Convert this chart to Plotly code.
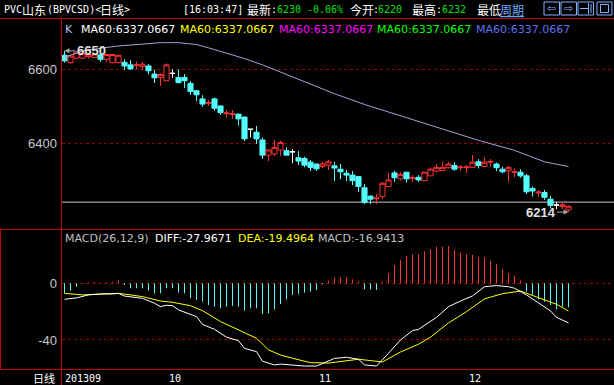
import plotly.graph_objects as go

W, H = 614, 385

# ---------------- data ----------------
opens  = [6638,6618,6630,6630,6634,6632,6639,6627,6618,6618,
          6619,6612,6610,6607,6609,6587,6578,6569,6589,6578,
          6578,6562,6542,6520,6508,6520,6501,6480,6478,6479,
          6471,6438,6430,6409,6368,6371,6382,6380,6377,6361,
          6359,6349,6344,6337,6341,6339,6330,6319,6314,6310,
          6280,6257,6250,6256,6283,6320,6304,6322,6305,6308,
          6299,6312,6325,6326,6334,6340,6334,6334,6335,6350,
          6337,6349,6344,6330,6326,6321,6322,6312,6278,6266,
          6267,6249,6233,6229,6220]
highs  = [6650,6637,6648,6645,6644,6643,6642,6642,6641,6639,
          6627,6625,6621,6620,6614,6598,6589,6616,6600,6600,
          6587,6568,6544,6530,6517,6524,6501,6490,6490,6479,
          6471,6438,6447,6416,6382,6409,6407,6389,6384,6379,
          6364,6355,6344,6350,6355,6350,6344,6328,6325,6312,
          6290,6260,6263,6296,6320,6326,6322,6322,6314,6314,
          6322,6335,6344,6349,6349,6349,6341,6341,6368,6357,
          6362,6357,6348,6337,6339,6332,6330,6317,6283,6274,
          6274,6258,6242,6242,6232]
lows   = [6618,6615,6627,6628,6630,6630,6620,6620,6616,6616,
          6598,6598,6600,6598,6586,6563,6555,6569,6577,6562,
          6549,6531,6514,6499,6501,6488,6477,6470,6466,6448,
          6406,6416,6398,6358,6352,6366,6366,6368,6346,6341,
          6335,6325,6325,6332,6328,6298,6303,6298,6287,6268,
          6236,6236,6236,6249,6283,6296,6299,6294,6296,6296,
          6299,6312,6322,6326,6332,6326,6326,6320,6335,6332,
          6337,6337,6325,6319,6296,6308,6307,6263,6256,6256,
          6247,6224,6222,6222,6214]
closes = [6623,6636,6647,6643,6641,6641,6627,6640,6640,6638,
          6609,6601,6612,6614,6596,6577,6586,6612,6589,6564,
          6569,6540,6531,6506,6510,6495,6483,6482,6480,6466,
          6412,6438,6412,6368,6382,6389,6402,6368,6377,6352,
          6341,6335,6331,6344,6350,6333,6323,6314,6299,6283,
          6240,6249,6252,6292,6301,6307,6316,6304,6307,6301,
          6322,6330,6335,6335,6344,6330,6336,6336,6349,6340,
          6349,6351,6334,6323,6335,6323,6312,6269,6271,6268,
          6254,6232,6233,6234,6230]

ma60_idx = [0, 3, 6, 9, 13, 16, 19, 22, 24, 27, 30, 33, 39, 45, 50, 56, 63, 69, 75, 80, 84]
ma60_val = [6633, 6649, 6657, 6663, 6668, 6672, 6672, 6667, 6658, 6644, 6629, 6612,
            6572, 6534, 6505, 6475, 6440, 6408, 6381, 6350, 6337]

macd_hist = [-7.1, -5.2, -2.4, -0.3, 0.5, 0.8, 0.5, 0.8, 1.0, 1.9,
             -1.2, -3.5, -3.5, -3.5, -5.2, -7.1, -7.1, -3.5, -3.5, -6.6,
             -7.1, -10.6, -11.8, -12.9, -15.3, -16.5, -17.6, -16.5, -16.0, -16.5,
             -19.3, -17.6, -17.6, -21.6, -21.2, -18.4, -14.6, -11.3, -8.2, -7.5,
             -6.6, -5.9, -4.7, -0.7, 1.9, 4.0, 4.0, 4.0, 2.8, 1.2,
             -4.2, -4.2, -4.7, 1.2, 7.1, 12.9, 16.5, 19.3, 20.5, 20.5,
             22.4, 24.0, 25.9, 25.9, 26.4, 23.5, 21.6, 20.5, 20.0, 18.4,
             18.4, 16.0, 13.6, 9.9, 7.1, 5.2, 1.9, -5.9, -8.2, -11.3,
             -12.9, -15.3, -18.4, -16.5, -16.94]

diff_idx = [0, 2, 4, 6, 8, 9, 10, 13, 15, 16, 17, 18, 19, 22, 23, 25, 27, 29, 30, 32,
            33, 35, 36, 38, 40, 42, 44, 45, 47, 49, 50, 52, 54, 56, 58, 59, 62, 64, 66, 68,
            70, 72, 74, 75, 77, 79, 81, 82, 84]
diff_val = [-11.3, -10.3, -8.2, -7.5, -7.5, -7.1, -9.0, -10.6, -14.1, -16.5,
            -15.5, -15.8, -18.8, -23.5, -29.0, -32.5, -38.0, -40.5, -45.9, -48.2,
            -55.0, -57.6, -57.0, -57.6, -58.4, -58.4, -54.6, -53.0, -52.2, -53.6,
            -57.6, -58.4, -49.4, -40.0, -33.4, -32.5, -24.0, -16.5, -12.5, -8.9,
            -2.4, -1.6, -2.4, -3.5, -8.2, -14.1, -19.5, -24.0, -27.97]

dea_idx = [0, 3, 5, 9, 10, 13, 16, 18, 21, 23, 26, 30, 32, 34, 36, 38, 41, 44, 47, 49,
           53, 56, 59, 61, 64, 67, 70, 73, 76, 78, 81, 82, 84]
dea_val = [-7.1, -8.2, -7.8, -7.1, -7.6, -9.4, -12.5, -13.4, -15.8, -19.3,
           -27.0, -34.5, -38.8, -47.0, -50.6, -52.9, -56.0, -56.3, -54.6, -53.6,
           -55.5, -48.5, -43.0, -38.0, -28.0, -20.0, -11.0, -7.3, -5.5, -8.5,
           -13.0, -14.8, -19.5]

month_idx = [0, 18, 43, 68]
month_labels = ["201309", "10", "11", "12"]
price_ticks = [6400, 6600]
macd_ticks = [-40, 0]
high_mark = 6650
low_mark = 6214
ref_level = 6241

ma_legend = ["MA60:6337.0667"] * 5
ma_colors = ["#ffffff", "#ffff00", "#ff00ff", "#00ff00", "#6070f0"]

RED = "#ff3232"
CYAN = "#54fcfc"
FRAME = "#c00000"
GRID = "#9a0000"

# ---------------- helpers ----------------
def px(x):
    return x / W

def py(y):
    return 1 - y / H

n = len(opens)
idx = list(range(n))
white_idx = [i for i in idx if opens[i] == closes[i]]
color_idx = [i for i in idx if opens[i] != closes[i]]

fig = go.Figure()

fig.add_trace(go.Candlestick(
    x=color_idx,
    open=[opens[i] for i in color_idx], high=[highs[i] for i in color_idx],
    low=[lows[i] for i in color_idx], close=[closes[i] for i in color_idx],
    increasing=dict(line=dict(color=RED, width=1), fillcolor="#000000"),
    decreasing=dict(line=dict(color=CYAN, width=1), fillcolor=CYAN),
    whiskerwidth=0, hoverinfo="skip", showlegend=False, xaxis="x", yaxis="y"))
fig.add_trace(go.Candlestick(
    x=white_idx,
    open=[opens[i] for i in white_idx], high=[highs[i] for i in white_idx],
    low=[lows[i] for i in white_idx], close=[closes[i] for i in white_idx],
    increasing=dict(line=dict(color="#ffffff", width=1), fillcolor="#ffffff"),
    decreasing=dict(line=dict(color="#ffffff", width=1), fillcolor="#ffffff"),
    whiskerwidth=0, hoverinfo="skip", showlegend=False, xaxis="x", yaxis="y"))

fig.add_trace(go.Scatter(x=ma60_idx, y=ma60_val, mode="lines",
                         line=dict(color="#a2a2d8", width=1),
                         hoverinfo="skip", showlegend=False, xaxis="x", yaxis="y"))

# MACD histogram
def seg(sel):
    xs, ys = [], []
    for i in idx:
        if sel(macd_hist[i]):
            xs += [i, i, None]
            ys += [0, macd_hist[i], None]
    return xs, ys

xr, yr = seg(lambda v: v > 0)
xc, yc = seg(lambda v: v <= 0)
fig.add_trace(go.Scatter(x=xr, y=yr, mode="lines", line=dict(color=RED, width=1),
                         hoverinfo="skip", showlegend=False, xaxis="x", yaxis="y2"))
fig.add_trace(go.Scatter(x=xc, y=yc, mode="lines", line=dict(color=CYAN, width=1),
                         hoverinfo="skip", showlegend=False, xaxis="x", yaxis="y2"))
fig.add_trace(go.Scatter(x=dea_idx, y=dea_val, mode="lines", line=dict(color="#ffff00", width=1),
                         hoverinfo="skip", showlegend=False, xaxis="x", yaxis="y2"))
fig.add_trace(go.Scatter(x=diff_idx, y=diff_val, mode="lines", line=dict(color="#ffffff", width=1),
                         hoverinfo="skip", showlegend=False, xaxis="x", yaxis="y2"))

# ---------------- axes ----------------
X0 = 62
x_lo = -2.5 / 6
x_hi = x_lo + (W - X0) / 6

def price_at(ypix):
    return 6600 + (69.3 - ypix) / 0.37

def macd_at(ypix):
    return (283.3 - ypix) / 1.417

P_TOP, P_BOT = 19, 228
M_TOP, M_BOT = 230, 369

tickfont = dict(family="Liberation Sans", size=13, color="#c8c8c8")

fig.update_layout(
    width=W, height=H, margin=dict(l=0, r=0, t=0, b=0),
    paper_bgcolor="#000000", plot_bgcolor="#000000",
    showlegend=False, boxgap=0.15, boxgroupgap=0,
    xaxis=dict(domain=[px(X0), 1], range=[x_lo, x_hi], showgrid=False, zeroline=False,
               showticklabels=False, ticks="", rangeslider=dict(visible=False),
               fixedrange=True, anchor="y2"),
    yaxis=dict(domain=[py(P_BOT), py(P_TOP)], range=[price_at(P_BOT), price_at(P_TOP)],
               tickvals=price_ticks, ticktext=[str(v) for v in price_ticks],
               tickfont=tickfont, ticks="", ticklabelstandoff=4,
               showgrid=True, gridcolor=GRID, griddash="dot", gridwidth=1,
               zeroline=False, showline=False, anchor="x", fixedrange=True),
    yaxis2=dict(domain=[py(M_BOT), py(M_TOP)], range=[macd_at(M_BOT), macd_at(M_TOP)],
                tickvals=macd_ticks, ticktext=[str(v) for v in macd_ticks],
                tickfont=tickfont, ticks="", ticklabelstandoff=4,
                showgrid=True, gridcolor=GRID, griddash="dot", gridwidth=1,
                zeroline=False, showline=False, anchor="x", fixedrange=True),
)

# ---------------- frame lines ----------------
shapes = []
def hline(y, x0, x1, color=FRAME, width=1):
    shapes.append(dict(type="line", xref="paper", yref="paper", x0=px(x0), x1=px(x1),
                       y0=py(y), y1=py(y), line=dict(color=color, width=width)))
def vline(x, y0, y1, color=FRAME, width=1):
    shapes.append(dict(type="line", xref="paper", yref="paper", x0=px(x), x1=px(x),
                       y0=py(y0), y1=py(y1), line=dict(color=color, width=width)))

hline(18.5, 0, W)
vline(61.5, 18.5, H)
hline(229.5, 0, W)
hline(369.5, 0, W)
vline(0.5, 229.5, 369.5)

# reference price line
shapes.append(dict(type="line", xref="paper", yref="y", x0=px(X0), x1=1,
                   y0=ref_level, y1=ref_level, line=dict(color="#c8c8c8", width=1), layer="below"))

# header icons
ICON = "#7fb2ff"
for (a, b) in [(544, 559.5), (561, 576.5), (578, 593.5), (597, 612)]:
    shapes.append(dict(type="rect", xref="paper", yref="paper", x0=px(a), x1=px(b),
                       y0=py(15), y1=py(2), line=dict(color=ICON, width=1)))
hline(8.5, 580, 588, ICON)
vline(588.5, 3, 14, ICON)
vline(591, 4, 13, ICON)
shapes.append(dict(type="rect", xref="paper", yref="paper", x0=px(600.5), x1=px(608.5),
                   y0=py(12.5), y1=py(4.5), line=dict(color=ICON, width=1)))
fig.update_layout(shapes=shapes)

# ---------------- text ----------------
ann = []
MONO = "DejaVu Sans Mono"
CJK = "Noto Sans CJK SC"

def txt(x, y, s, color="#ffffff", size=10, family=MONO, xanchor="left"):
    ann.append(dict(x=px(x), y=py(y), xref="paper", yref="paper", text=s, showarrow=False,
                    xanchor=xanchor, yanchor="middle",
                    font=dict(family=family, size=size, color=color)))

GREEN = "#00e000"
HY = 9
txt(2, HY, "PVC")
txt(19.5, HY, "山东", family=CJK, size=12)
txt(44.5, HY, "(BPVCSD)<")
txt(98.5, HY, "日线", family=CJK, size=12)
txt(122, HY, ">")
txt(181, HY, "[16:03:47]")
txt(245, HY, "最新", family=CJK, size=12)
txt(269, HY, ":")
txt(275, HY, "6230", GREEN)
txt(305, HY, "-0.06%", GREEN)
txt(348, HY, "今开", family=CJK, size=12)
txt(371, HY, ":")
txt(376, HY, "6220", GREEN)
txt(410, HY, "最高", family=CJK, size=12)
txt(433.5, HY, ":")
txt(440, HY, "6232", GREEN)
txt(474.5, HY, "最低", family=CJK, size=12)
txt(498, HY, "<u>周期</u>", "#6aa8ff", family=CJK, size=12)
txt(551.75, 8.5, "⇦", ICON, size=11, family="DejaVu Sans", xanchor="center")
txt(568.75, 8.5, "⇨", ICON, size=11, family="DejaVu Sans", xanchor="center")

# MA legend row
LEG = "DejaVu Sans"
txt(62.5, 29, "K", "#a8c8e8", size=11, family=LEG)
for k, (s, c) in enumerate(zip(ma_legend, ma_colors)):
    txt(79 + 98.8 * k, 29, s, c, size=11, family=LEG)

# MACD legend row
txt(62.5, 238, "MACD(26,12,9)", "#c0c0c0", size=11, family=LEG)
txt(152.5, 238, "DIFF:%.4f" % -27.9671, "#ffffff", size=11, family=LEG)
txt(235.5, 238, "DEA:%.4f" % -19.4964, "#ffff00", size=11, family=LEG)
txt(315.5, 238, "MACD:%.4f" % -16.9413, "#c0c0c0", size=11, family=LEG)

# month labels along the bottom
for i, (mi, lab) in enumerate(zip(month_idx, month_labels)):
    xv = -0.2 if i == 0 else mi - 0.9
    ann.append(dict(x=xv, y=py(378), xref="x", yref="paper", text=lab, showarrow=False,
                    xanchor="left", yanchor="middle",
                    font=dict(family=MONO, size=10, color="#ffffff")))
txt(57, 377.5, "日线", family=CJK, size=11, xanchor="right")

# high / low markers
hi_i = highs.index(high_mark)
lo_i = lows.index(low_mark)
mark_font = dict(family="Liberation Sans", size=13, color="#e0e0e0")
ann.append(dict(x=hi_i, y=high_mark, xref="x", yref="y", text="<b>%d</b>" % high_mark,
                showarrow=True, ax=27, ay=0, arrowhead=2, arrowsize=1, arrowwidth=1,
                arrowcolor="#a8a8a8", standoff=0, font=mark_font))
ann.append(dict(x=lo_i, y=low_mark, xref="x", yref="y", text="<b>%d</b>" % low_mark,
                showarrow=True, ax=-28, ay=0, arrowhead=2, arrowsize=1, arrowwidth=1,
                arrowcolor="#a8a8a8", standoff=0, font=mark_font))

fig.update_layout(annotations=ann)

fig.write_html("out.html", config={"displayModeBar": False, "staticPlot": True},
               post_script="document.body.style.margin='0px';document.body.style.overflow='hidden';")
